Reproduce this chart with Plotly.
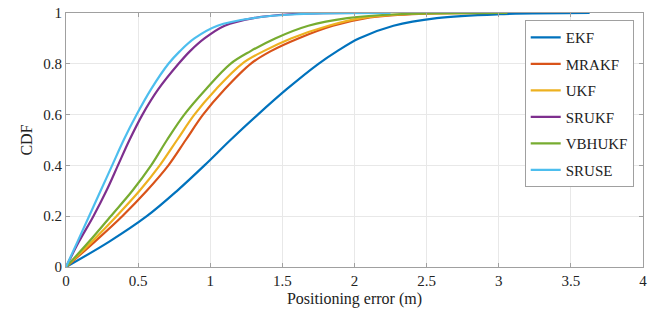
import plotly.graph_objects as go

cdf_levels = [0, 0.1, 0.2, 0.3, 0.4, 0.5, 0.6, 0.7, 0.8, 0.85, 0.9, 0.95, 0.98, 0.995, 1.0]

ekf    = [0, 0.30, 0.56, 0.77, 0.96, 1.14, 1.33, 1.53, 1.75, 1.88, 2.03, 2.27, 2.57, 3.00, 3.63]
mrakf  = [0, 0.20, 0.39, 0.56, 0.71, 0.83, 0.95, 1.10, 1.28, 1.42, 1.61, 1.85, 2.08, 2.40, 3.00]
ukf    = [0, 0.18, 0.35, 0.51, 0.65, 0.77, 0.89, 1.04, 1.22, 1.37, 1.56, 1.82, 2.05, 2.35, 2.90]
srukf  = [0, 0.09, 0.19, 0.28, 0.36, 0.44, 0.53, 0.64, 0.78, 0.86, 0.96, 1.10, 1.30, 1.55, 2.00]
vbhukf = [0, 0.16, 0.31, 0.46, 0.59, 0.70, 0.82, 0.97, 1.14, 1.28, 1.45, 1.68, 1.95, 2.30, 3.06]
sruse  = [0, 0.08, 0.16, 0.24, 0.32, 0.40, 0.49, 0.59, 0.71, 0.79, 0.89, 1.05, 1.30, 1.60, 2.25]

names = ["EKF", "MRAKF", "UKF", "SRUKF", "VBHUKF", "SRUSE"]
series = [ekf, mrakf, ukf, srukf, vbhukf, sruse]
colors = ["#0072BD", "#D95319", "#EDB120", "#7E2F8E", "#77AC30", "#4DBEEE"]

x_ticks = [0, 0.5, 1, 1.5, 2, 2.5, 3, 3.5, 4]
x_ticktext = ["0", "0.5", "1", "1.5", "2", "2.5", "3", "3.5", "4"]
y_ticks = [0, 0.2, 0.4, 0.6, 0.8, 1]
y_ticktext = ["0", "0.2", "0.4", "0.6", "0.8", "1"]

font = "Liberation Serif"

fig = go.Figure()
for i, (n, s, c) in enumerate(zip(names, series, colors)):
    fig.add_trace(go.Scatter(x=s, y=cdf_levels, mode="lines", name=n,
                             legendgroup=n,
                             line=dict(color=c, width=2.2, shape="spline", smoothing=1.0)))

axis_common = dict(showgrid=True, gridcolor="#e8e8e8", gridwidth=1,
                   showline=True, linecolor="#a0a0a0", linewidth=1, mirror="ticks",
                   ticks="inside", ticklen=4, tickcolor="#a0a0a0", zeroline=False,
                   automargin=False,
                   tickfont=dict(family=font, size=15, color="#222"))

fig.update_xaxes(range=[0, 4], tickvals=x_ticks, ticktext=x_ticktext,
                 title=dict(text="Positioning error (m)", font=dict(family=font, size=16, color="#222"), standoff=4),
                 **axis_common)
fig.update_yaxes(range=[0, 1], tickvals=y_ticks, ticktext=y_ticktext,
                 title=dict(text="CDF", font=dict(family=font, size=16, color="#222"), standoff=6),
                 **axis_common)

fig.update_layout(
    width=662, height=322,
    font=dict(family=font, size=15, color="#222"),
    margin=dict(l=66, r=19, t=13, b=55),
    plot_bgcolor="white", paper_bgcolor="white",
    legend=dict(x=0.795, y=0.972, xanchor="left", yanchor="top",
                bgcolor="white", bordercolor="#a0a0a0", borderwidth=1,
                font=dict(family=font, size=15, color="#222"),
                traceorder="grouped", tracegroupgap=4, itemwidth=30),
    showlegend=True,
)

fig.write_html("out.html", config={"displayModeBar": False},
               post_script="document.body.style.margin='0';")
